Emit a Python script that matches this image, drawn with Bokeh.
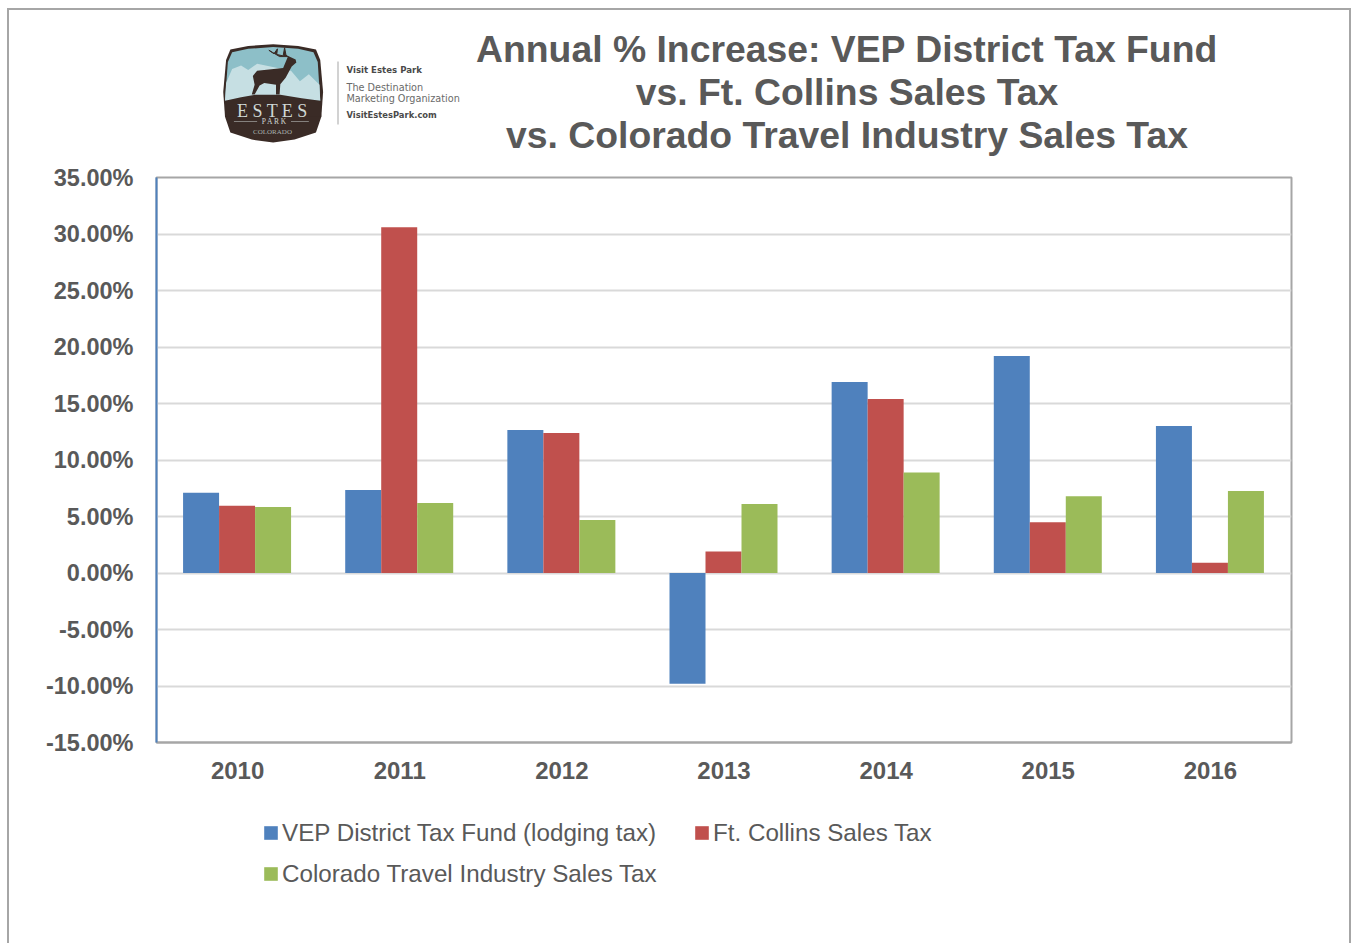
from bokeh.embed import file_html
from bokeh.resources import INLINE
from bokeh.plotting import figure
from bokeh.layouts import column
from bokeh.core.properties import value
from bokeh.models import (ColumnDataSource, FactorRange, Range1d, FixedTicker, PrintfTickFormatter,
                          Legend, LegendItem)
from bokeh.transform import dodge

years = ["2010", "2011", "2012", "2013", "2014", "2015", "2016"]
vep = [7.1, 7.35, 12.65, -9.8, 16.9, 19.2, 13.0]
collins = [5.95, 30.6, 12.4, 1.9, 15.4, 4.5, 0.9]
colorado = [5.85, 6.2, 4.7, 6.1, 8.9, 6.8, 7.25]
y_ticks = [-15, -10, -5, 0, 5, 10, 15, 20, 25, 30, 35]
series_names = ["VEP District Tax Fund (lodging tax)", "Ft. Collins Sales Tax", "Colorado Travel Industry Sales Tax"]
series_colors = ["#4f81bd", "#c0504d", "#9bbb59"]
title_lines = ["Annual % Increase: VEP District Tax Fund", "vs. Ft. Collins Sales Tax",
               "vs. Colorado Travel Industry Sales Tax"]

W, H = 1351, 943
HEAD = 160
MAIN = 630
LEG = H - HEAD - MAIN
LEFT, RIGHT = 156, 1291
TEXT = "#595959"
FONT = "Liberation Sans"

# ---------- header: pixel-space figure with title and logo
h = figure(width=W, height=HEAD, output_backend="svg", toolbar_location=None,
           x_range=Range1d(LEFT, RIGHT), y_range=Range1d(HEAD, 0),
           min_border_left=LEFT, min_border_right=W - RIGHT, min_border_top=0, min_border_bottom=0,
           outline_line_color=None, background_fill_color=None, border_fill_color=None)
h.axis.visible = False
h.grid.visible = False


def poly(pts, fill, line=None, width=1):
    h.patch([a for a, _ in pts], [b for _, b in pts], fill_color=fill, line_color=line, line_width=width)


def text(x, y, s, size, color=TEXT, style="normal", font=FONT, align="center"):
    h.text(x=[x], y=[y], text=[s], text_font=value(font), text_font_size=value(size),
           text_font_style=style, text_color=color, text_align=align, text_baseline="middle")


def z(pts):
    return [(200 + (218 + (a - 220) * 1.07) / 3, 29.5 + (190 + (b - 194) * 1.06) / 3) for a, b in pts]


for line, yy in zip(title_lines, [48, 91, 134]):
    text(846.5, yy, line, "37.35px", style="bold")

BROWN = "#3a2b26"
LIGHT = "#cfd8d5"
poly(z([(100, 70), (150, 60), (220, 55), (290, 60), (340, 70), (352, 100), (360, 190), (355, 260), (340, 305),
        (280, 325), (220, 333), (160, 325), (100, 305), (85, 260), (80, 190), (88, 100)]), BROWN)
poly(z([(105, 78), (150, 68), (220, 63), (290, 68), (333, 78), (345, 105), (352, 215), (85, 215), (93, 105)]),
     "#8dbfc8")
poly(z([(88, 165), (105, 125), (130, 115), (150, 128), (175, 110), (270, 130), (295, 160), (320, 140), (350, 170),
        (352, 215), (85, 215)]), "#c6dfe3")
poly(z([(85, 215), (130, 205), (170, 198), (240, 198), (300, 208), (352, 215), (355, 260), (85, 260)]), BROWN)
poly(z([(283, 98), (262, 88), (248, 122), (175, 130), (163, 145), (168, 170), (160, 197), (168, 197), (182, 172),
        (195, 165), (228, 170), (228, 197), (238, 197), (240, 168), (255, 150), (272, 118), (285, 107)]), BROWN)
poly(z([(262, 90), (238, 90), (218, 78), (208, 72), (222, 82), (232, 68), (230, 84), (248, 88), (252, 65), (256, 86)]),
     BROWN, BROWN, 1)
text(272, 110, "E S T E S", "18px", LIGHT, font="Liberation Serif")
text(274, 121, "P A R K", "7.5px", LIGHT, font="Liberation Serif")
poly(z([(110, 272), (175, 272), (175, 274), (110, 274)]), LIGHT)
poly(z([(270, 272), (320, 272), (320, 274), (270, 274)]), LIGHT)
text(272, 131, "COLORADO", "7px", "#a9b2ae", font="Liberation Serif")
poly([(337, 61), (338, 61), (338, 124), (337, 124)], "#a6a6a6")
text(346, 69.5, "Visit Estes Park", "8.6px", "#4a4a4a", style="bold", font="DejaVu Sans", align="left")
text(346, 86.5, "The Destination", "9.7px", "#6a6a6a", font="DejaVu Sans", align="left")
text(346, 97.5, "Marketing Organization", "9.7px", "#6a6a6a", font="DejaVu Sans", align="left")
text(346, 114.5, "VisitEstesPark.com", "8.4px", "#4a4a4a", style="bold", font="DejaVu Sans", align="left")

# ---------- main chart
p = figure(width=W, height=MAIN, output_backend="svg", toolbar_location=None,
           x_range=FactorRange(factors=years), y_range=Range1d(-15, 35),
           min_border_left=LEFT, min_border_right=W - RIGHT, min_border_top=17, min_border_bottom=48,
           background_fill_color=None, border_fill_color=None)
p.outline_line_color = "#a6a6a6"
p.outline_line_width = 2

src = ColumnDataSource(dict(year=years, vep=vep, collins=collins, colorado=colorado))
cat = 1135 / 7
bw = 36 / cat
nudge = -0.5 / cat
for col, off, c in zip(["vep", "collins", "colorado"], [-bw + nudge, nudge, bw + nudge], series_colors):
    p.vbar(x=dodge("year", off, range=p.x_range), top=col, bottom=0, width=bw, source=src,
           fill_color=c, line_color=None)

p.xgrid.visible = False
p.ygrid.grid_line_color = "#d9d9d9"
p.ygrid.grid_line_width = 2
p.ygrid.ticker = FixedTicker(ticks=y_ticks)

ya = p.yaxis[0]
ya.ticker = FixedTicker(ticks=y_ticks)
ya.formatter = PrintfTickFormatter(format="%.2f%%")
ya.axis_line_color = "#4f81bd"
ya.axis_line_width = 2
ya.major_tick_line_color = None
ya.minor_tick_line_color = None
ya.major_label_standoff = 17
ya.major_label_text_font = FONT
ya.major_label_text_font_size = "23.5px"
ya.major_label_text_font_style = "bold"
ya.major_label_text_color = TEXT

xa = p.xaxis[0]
xa.axis_line_color = "#a6a6a6"
xa.axis_line_width = 2
xa.major_tick_line_color = None
xa.minor_tick_line_color = None
xa.major_label_standoff = 13
xa.major_label_text_font = FONT
xa.major_label_text_font_size = "24px"
xa.major_label_text_font_style = "bold"
xa.major_label_text_color = TEXT
xa.major_label_orientation = "horizontal"

# ---------- legend strip
f = figure(width=W, height=LEG, output_backend="svg", toolbar_location=None,
           x_range=Range1d(LEFT, RIGHT), y_range=Range1d(LEG, 0),
           min_border_left=LEFT, min_border_right=W - RIGHT, min_border_top=0, min_border_bottom=0,
           outline_line_color=None, background_fill_color=None, border_fill_color=None)
f.axis.visible = False
f.grid.visible = False
swatches = [f.vbar(x=[-1000], top=[0], bottom=[0], width=1, fill_color=c, line_color=None) for c in series_colors]
order = [0, 2, 1]
legend = Legend(items=[LegendItem(label=series_names[i], renderers=[swatches[i]]) for i in order],
                ncols=2, location=(106, 55), border_line_color=None, background_fill_alpha=0,
                glyph_width=17, glyph_height=17, label_standoff=3, spacing=12, margin=0, padding=8,
                label_width=399, label_height=29,
                label_text_font=FONT, label_text_font_size="24.2px", label_text_color=TEXT)
f.add_layout(legend, "center")

page = column(h, p, f, spacing=0, width=W, height=H, stylesheets=[
    ":host::after{content:'';position:absolute;left:7px;top:8px;width:1344px;height:935px;"
    "border-left:2px solid #a6a6a6;border-right:2px solid #a6a6a6;border-top:2px solid #a6a6a6;"
    "box-sizing:border-box;pointer-events:none;}"])

open("out.html", "w").write(file_html(page, INLINE))
